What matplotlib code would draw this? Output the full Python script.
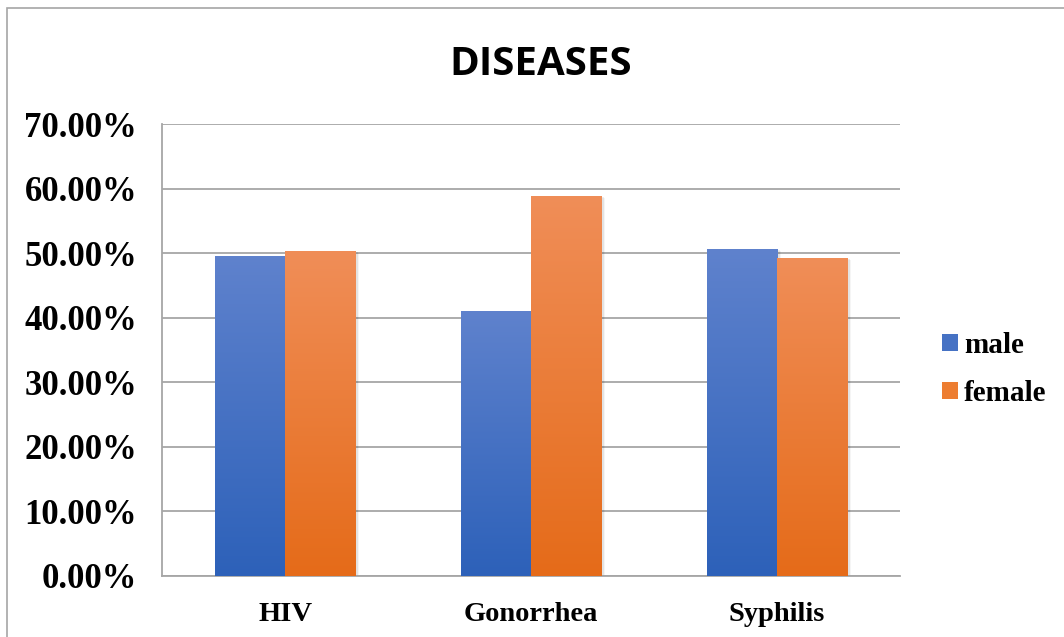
import numpy as np
import matplotlib
matplotlib.use("Agg")
import matplotlib.pyplot as plt
from matplotlib.colors import LinearSegmentedColormap
from matplotlib.patches import Rectangle, Patch
import matplotlib.transforms as mtransforms

diseases = ["HIV", "Gonorrhea", "Syphilis"]
male = [49.6, 41.1, 50.7]
female = [50.4, 58.9, 49.3]
y_ticks = [0, 10, 20, 30, 40, 50, 60, 70]

serif = "Liberation Serif"

fig = plt.figure(figsize=(10.64, 6.37), dpi=100)
ax = fig.add_axes([0.1523, 0.0958, 0.6937, 0.7095])

# outer chart border
fig.patches.append(Rectangle((7 / 1064, -0.01), 1.1, 1 - 8 / 637 + 0.01,
                             transform=fig.transFigure, fill=False,
                             edgecolor="#a6a6a6", linewidth=1.2))

width = 0.285
x = np.arange(len(diseases))

male_cmap = LinearSegmentedColormap.from_list("m", ["#2d61b9", "#5f82cd"])
female_cmap = LinearSegmentedColormap.from_list("f", ["#e56b19", "#f08e58"])

grad = np.linspace(0, 1, 256).reshape(-1, 1)


def gradient_bars(xs, heights, cmap):
    for xi, h in zip(xs, heights):
        x0, x1 = xi - width / 2, xi + width / 2
        # soft drop shadow
        for k, a in [(2, 0.10), (4, 0.07), (6, 0.04)]:
            off = mtransforms.offset_copy(ax.transData, fig=fig, x=k * 0.6, y=-k * 0.4, units="dots")
            ax.add_patch(Rectangle((x0, 0), width, h, facecolor="black", alpha=a,
                                   edgecolor="none", transform=off, zorder=2))
        rect = Rectangle((x0, 0), width, h, facecolor="none", edgecolor="none", zorder=3)
        ax.add_patch(rect)
        im = ax.imshow(grad, cmap=cmap, origin="lower", aspect="auto",
                       extent=[x0, x1, 0, h], zorder=3, interpolation="bilinear")
        im.set_clip_path(rect)


gradient_bars(x - width / 2, male, male_cmap)
gradient_bars(x + width / 2, female, female_cmap)

ax.set_xlim(-0.5, 2.5)
ax.set_ylim(0, 70)
ax.set_yticks(y_ticks)
ax.set_yticklabels([f"{v:.2f}%" for v in y_ticks], fontfamily=serif,
                   fontweight="bold", fontsize=25)
ax.set_xticks(x)
ax.set_xticklabels(diseases, fontfamily=serif, fontweight="bold", fontsize=20.5)
ax.tick_params(axis="both", length=0)
ax.tick_params(axis="y", pad=18)
ax.tick_params(axis="x", pad=19)

ax.grid(axis="y", color="#a6a6a6", linewidth=1.3, zorder=0)
ax.set_axisbelow(True)
for side in ["top", "right"]:
    ax.spines[side].set_visible(False)
ax.spines["left"].set_color("#a6a6a6")
ax.spines["bottom"].set_color("#a6a6a6")
ax.spines["left"].set_linewidth(1.3)
ax.spines["bottom"].set_linewidth(1.3)

fig.text(0.5085, 0.899, "DISEASES", ha="center", va="center",
         fontfamily="Open Sans", fontweight="bold", fontsize=29)

handles = [Patch(facecolor="#4672c4", label="male"),
           Patch(facecolor="#ed7d31", label="female")]
fig.legend(handles=handles, loc="center left", bbox_to_anchor=(0.861, 0.42),
           frameon=False, prop={"family": serif, "weight": "bold", "size": 21},
           handlelength=0.55, handleheight=0.55, handletextpad=0.2, labelspacing=0.72)

fig.savefig("out.png", dpi=100)
